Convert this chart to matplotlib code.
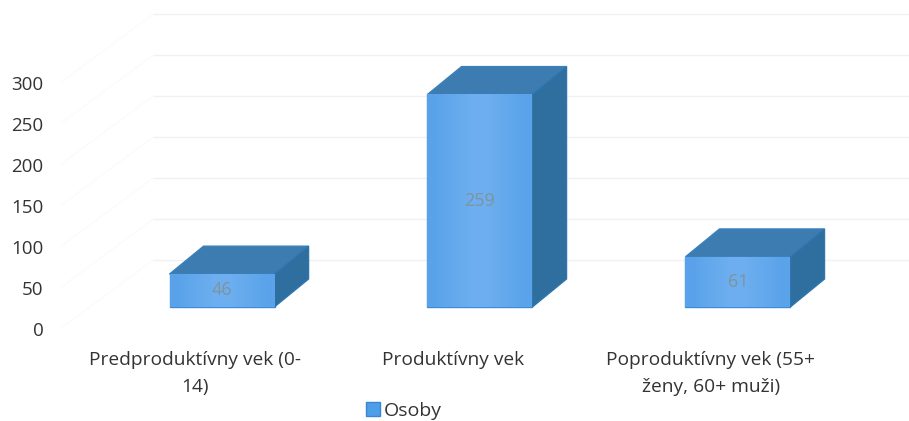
import matplotlib
matplotlib.use('Agg')
import matplotlib.pyplot as plt
from matplotlib.patches import Polygon, Patch
import numpy as np

categories = ['Predproduktívny vek (0-\n14)', 'Produktívny vek', 'Poproduktívny vek (55+\nženy, 60+ muži)']
values = [40, 259, 61]
value_labels = ['46', '259', '61']
yticks = [0, 50, 100, 150, 200, 250, 300]
series_name = 'Osoby'

plt.rcParams['font.family'] = ['Open Sans', 'DejaVu Sans']

fig = plt.figure(figsize=(9.09, 4.21), dpi=100)
ax = fig.add_axes([60/909, 92/421, 849/909, 329/421])

# one category = 258 px, one unit of value = 0.82 px
x = np.arange(len(categories))
width = 0.407
floor = 27
depth_x = 0.132
depth_y = 34
wall_x = 0.361
wall_y = 84
x_min = -0.628
x_max = 2.663
y_max = 329/0.82

# ------------------------------------------------------------------------------
# walls
for v in yticks:
    ax.plot([x_min + wall_x, x_max], [v + wall_y, v + wall_y], color='#f1f1f1', lw=1, zorder=1)
    ax.plot([x_min, x_min + wall_x], [v, v + wall_y], color='#fbfbfb', lw=1, zorder=1)

# ------------------------------------------------------------------------------
# bars
grad = np.array([[0.2, 0.6, 0.9, 0.9, 0.6, 0.25]])
cmap = matplotlib.colors.LinearSegmentedColormap.from_list('front', ['#549fe8', '#6fb0f0'])
for xi, v, label in zip(x, values, value_labels):
    left = xi - width/2
    right = xi + width/2
    top = floor + v
    bars = ax.bar(xi, v, width, bottom=floor, color='#5aa5ec', edgecolor='#3f8bd4', lw=1, zorder=3)
    im = ax.imshow(grad, cmap=cmap, vmin=0, vmax=1, aspect='auto', extent=(left, right, floor, top),
                   interpolation='bilinear', zorder=3.1)
    im.set_clip_path(bars[0])
    ax.add_patch(Polygon([(left, top), (right, top), (right + depth_x, top + depth_y), (left + depth_x, top + depth_y)],
                         closed=True, facecolor='#3d7cb0', edgecolor='#3a80bd', lw=1, zorder=3))
    ax.add_patch(Polygon([(right, floor), (right + depth_x, floor + depth_y), (right + depth_x, top + depth_y), (right, top)],
                         closed=True, facecolor='#2f6f9f', edgecolor='#2f76ae', lw=1, zorder=3))
    ax.text(xi, floor + v/2, label, ha='center', va='center', color='#7f949c', fontsize=13, zorder=4)

ax.set_xlim(x_min, x_max)
ax.set_ylim(0, y_max)

ax.set_yticks(yticks)
ax.set_xticks(x - 0.105)
ax.set_xticklabels(categories, linespacing=1.6)
ax.tick_params(axis='y', length=0, pad=12, labelsize=13.5, labelcolor='#333333')
ax.tick_params(axis='x', length=0, pad=16, labelsize=13.8, labelcolor='#333333')
for s in ax.spines.values():
    s.set_visible(False)
ax.patch.set_alpha(0)

fig.legend(handles=[Patch(facecolor='#4f9fe8', edgecolor='#3a86d0', label=series_name)],
           loc='center', bbox_to_anchor=(404/909, 1 - 411/421), frameon=False,
           fontsize=14, labelcolor='#333333', handlelength=0.7, handleheight=0.7, handletextpad=0.2)

fig.savefig('out.png', dpi=100)
